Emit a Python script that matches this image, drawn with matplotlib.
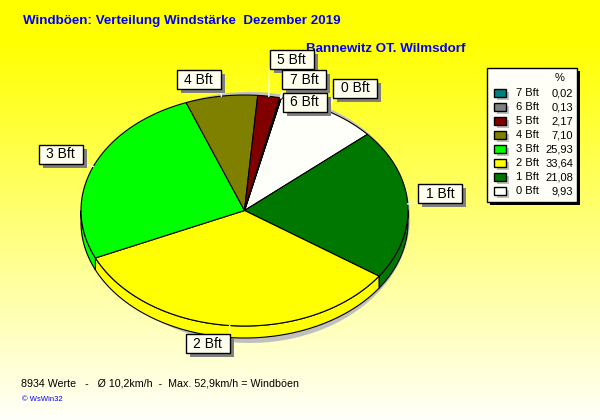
import numpy as np
import matplotlib.pyplot as plt
from matplotlib.patches import Polygon, Rectangle

plt.rcParams['font.family'] = ['Liberation Sans', 'DejaVu Sans']

# wind force distribution, December 2019 (percent)
classes = ['0 Bft', '1 Bft', '2 Bft', '3 Bft', '4 Bft', '5 Bft', '6 Bft', '7 Bft']
shares = [9.93, 21.08, 33.64, 25.93, 7.10, 2.17, 0.13, 0.02]
share_labels = ['9,93', '21,08', '33,64', '25,93', '7,10', '2,17', '0,13', '0,02']
colors = ['#FFFFFA', '#007800', '#FFFF00', '#00FF00', '#808000', '#800000', '#808080', '#008080']

# where the slice labels sit (box centres, pixels)
label_pos = {'0 Bft': (355, 88), '1 Bft': (440, 193.5), '2 Bft': (207.5, 343),
             '3 Bft': (60.5, 154), '4 Bft': (198.5, 79.5), '5 Bft': (291.5, 59),
             '6 Bft': (304.5, 102), '7 Bft': (304, 79.5)}

title = 'Windböen: Verteilung Windstärke  Dezember 2019'
station = 'Bannewitz OT. Wilmsdorf'
footer = '8934 Werte   -   Ø 10,2km/h  -  Max. 52,9km/h = Windböen'

W, H = 600, 420
cx, cy, rx, ry, depth = 244.5, 210.5, 163.5, 115.5, 12
start = 77.0

fig = plt.figure(figsize=(6, 4.2), dpi=100)
ax = fig.add_axes([0, 0, 1, 1])
ax.set_xlim(0, W)
ax.set_ylim(H, 0)
ax.axis('off')

# yellow -> pale background
yy = np.arange(H)
blue = np.clip((yy - 40) / 380.0 * 250, 0, 250) / 255.0
bg = np.ones((H, 1, 3))
bg[:, 0, 2] = blue
ax.imshow(bg, extent=[0, W, H, 0], aspect='auto', zorder=0, interpolation='bilinear')


def arc(t0, t1, dy=0, n=80):
    t = np.radians(np.linspace(t0, t1, n))
    return np.column_stack([cx + rx * np.cos(t), cy - ry * np.sin(t) + dy])


# shadow under the pie
t = np.radians(np.linspace(0, 360, 200))
sh = np.column_stack([cx + 5 + (rx - 3) * np.cos(t),
                      cy + depth / 2 + 1 - (ry + depth / 2 + 4) * np.sin(t)])
ax.add_patch(Polygon(sh, closed=True, fc='#C0C0C0', ec='none', zorder=1))

# slice angles, clockwise
bounds = []
a = start
for v in shares:
    b = a - v / 100.0 * 360
    bounds.append((b, a))
    a = b

# side walls (front half only)
for (lo, hi), c in zip(bounds, colors):
    for k in range(-2, 2):
        s0, s1 = max(lo, -180 + 360 * k), min(hi, 360 * k)
        if s1 > s0:
            top = arc(s0, s1)
            bot = arc(s1, s0, dy=depth)
            ax.add_patch(Polygon(np.vstack([top, bot]), closed=True, fc=c, ec='black',
                                 lw=0.8, zorder=2))

# top surface
for (lo, hi), c in zip(bounds, colors):
    pts = np.vstack([[cx, cy], arc(lo, hi)])
    ax.add_patch(Polygon(pts, closed=True, fc=c, ec='black', lw=0.8, zorder=3))

ax.text(306, 52, station, color='#0000FF', fontsize=9.6, fontweight='bold',
        va='baseline', zorder=4)

# labels with leader lines
bw, bh = 44, 19
for name, (lo, hi) in zip(classes, bounds):
    bx, by = label_pos[name]
    m = np.radians((lo + hi) / 2)
    ex, ey = cx + rx * np.cos(m), cy - ry * np.sin(m)
    corners = [(bx + sx * bw / 2, by + sy * bh / 2) for sx in (-1, 1) for sy in (-1, 1)]
    kx, ky = min(corners, key=lambda p: (p[0] - ex) ** 2 + (p[1] - ey) ** 2)
    ax.plot([ex, kx], [ey, ky], color='white', lw=1, zorder=5)
    ax.add_patch(Rectangle((bx - bw / 2 + 4, by - bh / 2 + 4), bw, bh, fc='#808080',
                           ec='none', zorder=6))
    ax.add_patch(Rectangle((bx - bw / 2, by - bh / 2), bw, bh, fc='#FFFFF0',
                           ec='black', lw=1, zorder=7))
    ax.text(bx, by + 0.5, name, fontsize=10, ha='center', va='center', zorder=8)

# legend
lx0, ly0, lx1, ly1 = 487, 68, 577, 202
ax.add_patch(Rectangle((lx0 + 3, ly0 + 3), lx1 - lx0, ly1 - ly0, fc='black', ec='none', zorder=6))
ax.add_patch(Rectangle((lx0, ly0), lx1 - lx0, ly1 - ly0, fc='#FFFFF8', ec='black', lw=1, zorder=7))
ax.text(560, 78, '%', fontsize=8, ha='center', va='center', zorder=8)
for i, (name, val, c) in enumerate(zip(classes[::-1], share_labels[::-1], colors[::-1])):
    ry_ = 93 + 14 * i
    ax.add_patch(Rectangle((497, ry_ - 1), 12, 8, fc='#C0C0C0', ec='none', zorder=8))
    ax.add_patch(Rectangle((494, ry_ - 4), 12, 8, fc=c, ec='black', lw=1, zorder=9))
    ax.text(516, ry_ + 0.5, name, fontsize=8, va='center', zorder=9)
    ax.text(573, ry_ + 0.5, val, fontsize=8, va='center', ha='right', zorder=9)

ax.text(23, 24, title, color='#0000FF', fontsize=9.6, fontweight='bold', va='baseline', zorder=9)
ax.text(21, 386.5, footer, fontsize=7.65, va='baseline', zorder=9)
ax.text(22, 401, '© WsWin32', color='#0000FF', fontsize=5.5, va='baseline', zorder=9)

plt.savefig('out.png', dpi=100)
